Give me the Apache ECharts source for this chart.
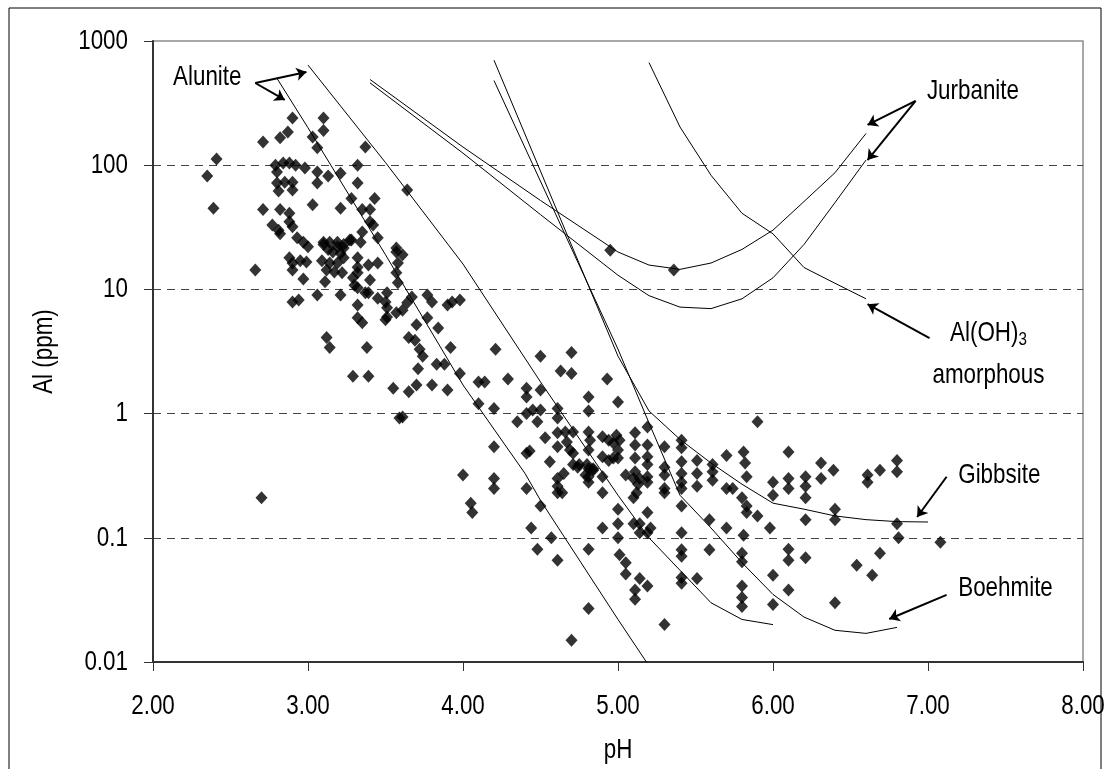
<!DOCTYPE html>
<html>
<head>
<meta charset="utf-8">
<title>Al vs pH</title>
<script src="https://cdn.jsdelivr.net/npm/echarts@6.0.0/dist/echarts.min.js"></script>
<style>
  html, body { margin: 0; padding: 0; background: #fff; }
  #chart { width: 1109px; height: 769px; }
</style>
</head>
<body>
<div id="chart"></div>
<script>
// tick labels
const xTicks = [2, 3, 4, 5, 6, 7, 8];
const yTicks = [0.01, 0.1, 1, 10, 100, 1000];

// samples [pH, Al ppm]
const samplesPh2 = [
  [2.35, 82], [2.39, 45], [2.41, 112], [2.66, 14.3], [2.70, 0.21],
  [2.90, 240], [2.87, 185], [2.82, 166], [2.71, 154],
  [2.79, 100], [2.84, 104], [2.88, 104], [2.92, 100], [2.80, 88], [2.98, 95],
  [2.80, 72], [2.85, 73], [2.90, 73], [2.81, 62], [2.90, 63],
  [2.71, 44], [2.82, 44], [2.88, 41],
  [2.77, 33], [2.81, 30], [2.88, 35], [2.90, 32], [2.82, 28],
  [2.93, 26], [2.97, 24],
  [2.88, 18], [2.90, 16.3], [2.95, 17], [2.99, 16.6],
  [2.90, 14.3], [2.97, 12.1], [2.90, 7.9], [2.94, 8.2]
];
const samplesPh3 = [
  [3.10, 240], [3.10, 190], [3.03, 169], [3.06, 138], [3.37, 140],
  [3.06, 88], [3.13, 82], [3.21, 86], [3.32, 100],
  [3.06, 72], [3.32, 72],
  [3.03, 48], [3.21, 45], [3.28, 54], [3.43, 54],
  [3.35, 44], [3.40, 44],
  [3.40, 35], [3.42, 33], [3.35, 29], [3.34, 24],
  [3.10, 24], [3.19, 24], [3.23, 23], [3.28, 25], [3.45, 26],
  [3.00, 22], [3.10, 23], [3.14, 24], [3.19, 22], [3.23, 21.5], [3.27, 25],
  [3.16, 20], [3.21, 19.5], [3.13, 21],
  [3.09, 17], [3.14, 16.3], [3.19, 16.3], [3.23, 18],
  [3.12, 14.3], [3.17, 13.8], [3.22, 13.6],
  [3.32, 18], [3.32, 15.1], [3.32, 13.6], [3.39, 15.7], [3.45, 16.3],
  [3.11, 11.5], [3.29, 12.4], [3.30, 10.8], [3.32, 10.3], [3.40, 11.9],
  [3.37, 9.4], [3.39, 9.4], [3.06, 9.0], [3.21, 9.0],
  [3.45, 8.5], [3.32, 7.5],
  [3.32, 5.9], [3.35, 5.4],
  [3.12, 4.1], [3.14, 3.4], [3.38, 3.4],
  [3.29, 2.0], [3.39, 2.0]
];
const samplesPh4 = [
  [3.64, 63], [3.57, 21.5], [3.57, 20], [3.61, 19], [3.58, 16.3], [3.57, 13.6], [3.58, 11.3],
  [3.51, 9.4], [3.50, 7.9], [3.51, 7.1], [3.51, 6.0], [3.50, 5.7],
  [3.57, 6.5], [3.61, 6.8], [3.64, 7.8], [3.67, 8.7],
  [3.77, 9.0], [3.80, 7.9], [3.90, 7.5], [3.93, 7.9], [3.98, 8.2],
  [3.77, 5.9], [3.70, 5.2], [3.84, 4.9], [3.65, 4.1], [3.69, 3.9],
  [3.92, 3.4], [3.72, 3.3], [3.74, 2.9], [3.83, 2.5], [3.88, 2.5], [3.71, 2.3], [3.98, 2.1],
  [3.55, 1.6], [3.65, 1.5], [3.70, 1.7], [3.59, 0.92], [3.61, 0.94],
  [3.80, 1.7], [3.90, 1.55], [4.10, 1.8], [4.14, 1.8], [4.29, 1.9], [4.21, 3.3],
  [4.10, 1.2], [4.20, 1.1], [4.41, 1.6], [4.41, 1.36],
  [4.35, 0.86], [4.41, 1.0], [4.45, 1.07], [4.20, 0.54], [4.41, 0.48], [4.43, 0.50],
  [4.00, 0.32], [4.20, 0.30], [4.20, 0.25], [4.41, 0.25], [4.05, 0.19], [4.06, 0.16], [4.44, 0.12]
];
const samplesPh5 = [
  [4.50, 2.9], [4.70, 3.1], [4.63, 2.2], [4.70, 2.1], [4.93, 1.9],
  [4.50, 1.55], [4.81, 1.36], [5.00, 1.24], [4.81, 1.05],
  [4.50, 1.07], [4.48, 0.86], [4.61, 1.1], [4.61, 0.92],
  [4.53, 0.64], [4.61, 0.70], [4.61, 0.54], [4.56, 0.41],
  [4.66, 0.71], [4.67, 0.59], [4.71, 0.71], [4.69, 0.51], [4.71, 0.48],
  [4.81, 0.71], [4.82, 0.61], [4.81, 0.51],
  [4.90, 0.65], [4.94, 0.61], [4.97, 0.58], [4.99, 0.67], [5.01, 0.61], [5.00, 0.51],
  [4.90, 0.45], [4.94, 0.42], [4.97, 0.44], [5.00, 0.44],
  [4.71, 0.39], [4.75, 0.39], [4.80, 0.39], [4.84, 0.36], [4.74, 0.37],
  [4.65, 0.33], [4.79, 0.32], [4.84, 0.35],
  [4.61, 0.30], [4.61, 0.26], [4.61, 0.23], [4.64, 0.23],
  [4.81, 0.31], [4.81, 0.28], [4.90, 0.31], [4.81, 0.36], [4.90, 0.23],
  [5.11, 0.70], [5.11, 0.56], [5.11, 0.44], [5.11, 0.34],
  [5.19, 0.78], [5.19, 0.56], [5.19, 0.45], [5.19, 0.39], [5.19, 0.31], [5.19, 0.28],
  [5.05, 0.32], [5.10, 0.30], [5.14, 0.30], [5.13, 0.27], [5.12, 0.23], [5.10, 0.21],
  [4.50, 0.18], [5.00, 0.17], [5.00, 0.13], [5.19, 0.16], [4.90, 0.12],
  [5.10, 0.13], [5.14, 0.13], [5.14, 0.11], [5.19, 0.11], [5.21, 0.12], [5.00, 0.10],
  [4.57, 0.10], [4.48, 0.081], [4.61, 0.066], [4.81, 0.081],
  [5.01, 0.073], [5.05, 0.063], [5.05, 0.051], [5.14, 0.047], [5.19, 0.041], [5.11, 0.038], [5.11, 0.032],
  [4.81, 0.027], [4.70, 0.015], [4.95, 20.7]
];
const samplesPh6 = [
  [5.36, 14.3],
  [5.30, 0.54], [5.30, 0.37], [5.30, 0.32], [5.30, 0.25], [5.30, 0.23],
  [5.41, 0.61], [5.41, 0.53], [5.41, 0.41], [5.41, 0.33], [5.41, 0.28], [5.41, 0.25],
  [5.51, 0.42], [5.51, 0.33], [5.51, 0.26],
  [5.41, 0.18], [5.41, 0.11], [5.41, 0.080], [5.41, 0.071], [5.41, 0.048], [5.41, 0.043], [5.51, 0.047], [5.30, 0.020],
  [5.90, 0.86],
  [5.61, 0.39], [5.61, 0.34], [5.61, 0.29],
  [5.70, 0.46], [5.70, 0.25], [5.74, 0.25],
  [5.81, 0.49], [5.82, 0.40], [5.83, 0.31],
  [5.80, 0.21], [5.83, 0.18], [5.83, 0.16], [5.90, 0.15],
  [5.59, 0.14], [5.70, 0.12], [5.81, 0.105], [5.98, 0.12],
  [6.00, 0.28], [6.00, 0.22], [6.10, 0.49], [6.10, 0.30], [6.10, 0.25],
  [6.21, 0.31], [6.21, 0.26], [6.21, 0.21], [6.31, 0.40], [6.31, 0.30], [6.39, 0.35],
  [6.21, 0.14], [6.40, 0.17], [6.40, 0.14],
  [6.61, 0.32], [6.61, 0.28], [6.69, 0.35], [6.80, 0.42], [6.80, 0.34],
  [6.80, 0.13], [6.81, 0.10], [7.08, 0.092],
  [5.59, 0.080], [5.80, 0.075], [5.80, 0.064],
  [5.80, 0.041], [5.80, 0.033], [5.80, 0.028],
  [6.00, 0.050], [6.00, 0.029],
  [6.10, 0.081], [6.10, 0.066], [6.21, 0.069], [6.10, 0.038], [6.40, 0.030],
  [6.54, 0.060], [6.64, 0.050], [6.69, 0.075]
];

// solubility curves [pH, Al ppm]
const aluniteA = [[2.8, 500], [3.0, 200], [3.5, 19], [4.0, 1.7], [4.4, 0.33], [4.5, 0.2], [5.0, 0.022], [5.2, 0.0093]];
const aluniteB = [[3.0, 640], [3.5, 105], [4.0, 16], [4.5, 1.8], [5.0, 0.22], [5.2, 0.1], [5.6, 0.03], [5.8, 0.022], [6.0, 0.02]];
const jurbaniteA = [[3.4, 490], [4.0, 140], [4.5, 52], [5.0, 20], [5.2, 15.7], [5.4, 14.5], [5.6, 16.3], [5.8, 21], [6.0, 30], [6.2, 51], [6.4, 87], [6.6, 180]];
const jurbaniteB = [[3.4, 460], [4.0, 125], [4.5, 40], [5.0, 13], [5.2, 8.9], [5.4, 7.2], [5.6, 7.0], [5.8, 8.4], [6.0, 12.4], [6.2, 23], [6.4, 50], [6.6, 110]];
const amorphous = [[5.2, 670], [5.4, 203], [5.6, 83], [5.8, 41], [6.0, 28], [6.2, 15], [6.4, 11.2], [6.6, 8.4]];
const gibbsite = [[4.2, 700], [5.0, 2.9], [5.2, 1.05], [5.4, 0.62], [5.6, 0.40], [5.8, 0.27], [6.0, 0.19], [6.2, 0.17], [6.4, 0.15], [6.6, 0.14], [6.8, 0.135], [7.0, 0.134]];
const boehmite = [[4.2, 480], [5.0, 3.3], [5.2, 0.84], [5.4, 0.22], [5.6, 0.12], [5.8, 0.063], [6.0, 0.035], [6.2, 0.023], [6.4, 0.018], [6.6, 0.017], [6.8, 0.019]];

// annotation arrows [from, to] and labels [pH, Al, text]
const arrows = [
  [[2.66, 459], [2.99, 562]],
  [[2.66, 459], [2.85, 335]],
  [[6.92, 329], [6.61, 211]],
  [[6.92, 329], [6.61, 110]],
  [[7.01, 4.06], [6.61, 7.6]],
  [[7.12, 0.31], [6.93, 0.147]],
  [[7.12, 0.0347], [6.75, 0.0222]]
];
const labels = [
  [2.35, 513, 'Alunite'],
  [7.29, 395, 'Jurbanite'],
  [7.39, 4.4, 'Al(OH){sub|3}'],
  [7.39, 2.05, 'amorphous'],
  [7.46, 0.32, 'Gibbsite'],
  [7.50, 0.039, 'Boehmite']
];

const FONT = '"Liberation Sans", Arial, sans-serif';
const NARROW = 0.8; // the original lettering is condensed
const chart = echarts.init(document.getElementById('chart'));

const curve = (data) => ({
  type: 'line',
  data: data,
  showSymbol: false,
  symbol: 'none',
  smooth: false,
  silent: true,
  clip: true,
  lineStyle: { color: '#000', width: 1 },
  z: 3
});

const samples = [].concat(samplesPh2, samplesPh3, samplesPh4, samplesPh5, samplesPh6);

const option = {
  animation: false,
  backgroundColor: '#fff',
  grid: {
    left: 153, right: 26, top: 41, bottom: 107,
    show: true, borderColor: '#8c8c8c', borderWidth: 1.5
  },
  xAxis: {
    type: 'value',
    min: xTicks[0], max: xTicks[xTicks.length - 1], interval: 1,
    axisLine: { show: true, lineStyle: { color: '#333', width: 2 } },
    axisTick: { show: true, length: 9, lineStyle: { color: '#333', width: 1 } },
    axisLabel: { show: false },
    splitLine: { show: false }
  },
  yAxis: {
    type: 'log',
    logBase: 10,
    min: yTicks[0], max: yTicks[yTicks.length - 1],
    axisLine: { show: true, lineStyle: { color: '#333', width: 2 } },
    axisTick: { show: true, length: 9, lineStyle: { color: '#333', width: 1 } },
    axisLabel: { show: false },
    splitLine: {
      show: true, showMinLine: false, showMaxLine: false,
      lineStyle: { color: '#444', width: 1, type: [8, 6] }
    }
  },
  series: [
    curve(aluniteA), curve(aluniteB),
    curve(jurbaniteA), curve(jurbaniteB),
    curve(amorphous), curve(gibbsite), curve(boehmite),
    {
      type: 'scatter',
      data: samples,
      symbol: 'diamond',
      symbolSize: [12, 13],
      itemStyle: { color: '#000' },
      silent: true,
      z: 4
    },
    {
      type: 'scatter',
      data: [],
      silent: true,
      markLine: {
        silent: true,
        symbol: ['none', 'arrow'],
        symbolSize: 10,
        label: { show: false },
        lineStyle: { color: '#000', width: 2, type: 'solid' },
        data: arrows.map(([a, b]) => [{ coord: a }, { coord: b }])
      }
    }
  ]
};

chart.setOption(option);

// condensed text, placed through the chart's own scales
const toPx = (x, y) => chart.convertToPixel({ gridIndex: 0 }, [x, y]);
const txt = (x, y, text, align, vAlign, extra) => Object.assign({
  type: 'text', x: x, y: y, scaleX: NARROW, silent: true, z: 10,
  style: {
    text: text, fill: '#000', font: '28px ' + FONT,
    textAlign: align, align: align,
    textVerticalAlign: vAlign, verticalAlign: vAlign,
    rich: { sub: { font: '19px ' + FONT, fill: '#000', padding: [12, 0, 0, 0] } }
  }
}, extra || {});

const texts = [];
xTicks.forEach((v) => {
  const p = toPx(v, yTicks[0]);
  texts.push(txt(p[0], p[1] + 44, v.toFixed(2), 'center', 'middle'));
});
yTicks.forEach((v) => {
  const p = toPx(xTicks[0], v);
  texts.push(txt(p[0] - 25, p[1], String(v), 'right', 'middle'));
});
const mid = toPx((xTicks[0] + xTicks[xTicks.length - 1]) / 2, Math.sqrt(yTicks[0] * yTicks[yTicks.length - 1]));
const bottomLeft = toPx(xTicks[0], yTicks[0]);
texts.push(txt(mid[0], bottomLeft[1] + 88, 'pH', 'center', 'middle'));
texts.push(txt(bottomLeft[0] - 109, mid[1], 'Al (ppm)', 'center', 'middle', { rotation: Math.PI / 2 }));
labels.forEach(([x, y, t]) => {
  const p = toPx(x, y);
  texts.push(txt(p[0], p[1], t, 'center', 'middle'));
});

chart.setOption({
  graphic: [
    {
      type: 'rect',
      shape: { x: 9, y: 8, width: 1092, height: 780 },
      style: { fill: null, stroke: '#000', lineWidth: 1 },
      silent: true
    }
  ].concat(texts)
});
</script>
</body>
</html>
